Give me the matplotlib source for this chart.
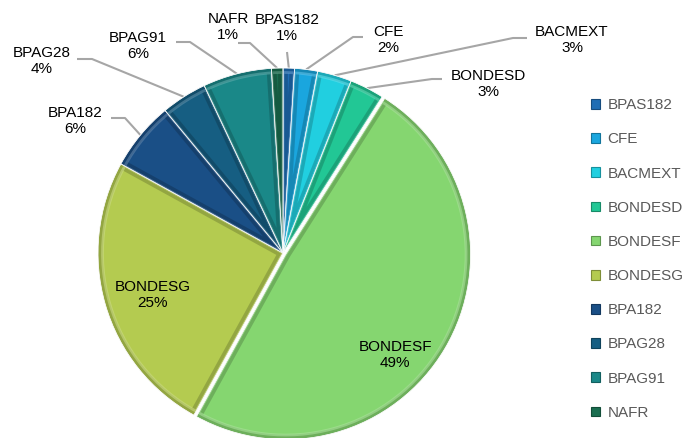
import matplotlib.pyplot as plt
from matplotlib.patches import Wedge, Patch
from matplotlib.colors import to_rgb
import numpy as np

labels = ['BPAS182', 'CFE', 'BACMEXT', 'BONDESD', 'BONDESF',
          'BONDESG', 'BPA182', 'BPAG28', 'BPAG91', 'NAFR']
shares = [1, 2, 3, 3, 49, 25, 6, 4, 6, 1]
colors = ['#1f6db4', '#1aa6de', '#21cfe0', '#22c795', '#85d670',
          '#b4cb50', '#1a4f86', '#165e82', '#1a8888', '#1a6e50']

W, H = 687, 438
cx, cy, R = 283, 253, 185   # pie centre / radius in pixels (y from top)

# label layout: text centre, then leader line elbow and end (pixels, y from top)
label_layout = {
    'BPAS182': ((287, 28), None, (287, 52)),
    'CFE': ((388, 40), (353, 37), (363, 37)),
    'BACMEXT': ((572, 40), (513, 38), (527, 38)),
    'BONDESD': ((488, 84), (432, 79), (442, 79)),
    'BONDESF': ((395, 355), None, None),
    'BONDESG': ((153, 295), None, None),
    'BPA182': ((75, 121), (125, 118), (111, 118)),
    'BPAG28': ((42, 61), (92, 59), (77, 59)),
    'BPAG91': ((138, 46), (190, 42), (176, 42)),
    'NAFR': ((228, 27), (250, 43), (238, 43)),
}


def py(y):
    return H - y


def darker(c, f):
    r, g, b = to_rgb(c)
    return (r * f, g * f, b * f)


def lighter(c, f):
    r, g, b = to_rgb(c)
    return (r + (1 - r) * f, g + (1 - g) * f, b + (1 - b) * f)


plt.rcParams['font.family'] = ['Liberation Sans', 'DejaVu Sans']

fig = plt.figure(figsize=(W / 100, H / 100), dpi=100)
ax = fig.add_axes([0, 0, 1, 1])

explode = [3 if l == 'BONDESF' else 0 for l in labels]
wedges, _ = ax.pie(shares, colors=colors, startangle=90, counterclock=False,
                   center=(cx, py(cy)), radius=R, explode=explode,
                   wedgeprops=dict(edgecolor='white', linewidth=0.5),
                   frame=True)
ax.set_xlim(0, W)
ax.set_ylim(0, H)
ax.set_aspect('equal')
ax.axis('off')

# bevel-ish rims
for w, c in zip(wedges, colors):
    rim = Wedge(w.center, w.r, w.theta1, w.theta2, facecolor='none',
                edgecolor=darker(c, 0.6), linewidth=7, alpha=0.45)
    rim.set_clip_path(w)
    ax.add_patch(rim)
    hi = Wedge(w.center, w.r - 4.5, w.theta1, w.theta2, facecolor='none',
               edgecolor=lighter(c, 0.3), linewidth=2, alpha=0.6)
    hi.set_clip_path(w)
    ax.add_patch(hi)
    sep = Wedge(w.center, w.r, w.theta1, w.theta2, facecolor='none',
                edgecolor='white', linewidth=0.5)
    ax.add_patch(sep)

total = sum(shares)
for w, lab, s in zip(wedges, labels, shares):
    (tx, ty), elbow, end = label_layout[lab]
    pct = f'{s / total * 100:.0f}%'
    ax.text(tx, py(ty), f'{lab}\n{pct}', ha='center', va='center',
            fontsize=11, color='black', linespacing=1.2)
    if end is None:
        continue
    ang = np.deg2rad((w.theta1 + w.theta2) / 2)
    ax_, ay_ = w.center[0] + w.r * np.cos(ang), w.center[1] + w.r * np.sin(ang)
    xs, ys = [ax_], [ay_]
    if elbow is not None:
        xs.append(elbow[0]); ys.append(py(elbow[1]))
    xs.append(end[0]); ys.append(py(end[1]))
    ax.plot(xs, ys, color='#a6a6a6', linewidth=1.5, solid_capstyle='butt', zorder=0.5)

handles = [Patch(facecolor=c, edgecolor=darker(c, 0.7), linewidth=0.8) for c in colors]
fig.legend(handles, labels, loc='center left', bbox_to_anchor=(577 / W, 1 - 259 / H),
           frameon=False, fontsize=11, labelcolor='#595959',
           handlelength=0.6, handleheight=0.6, handletextpad=0.5,
           labelspacing=1.32)

fig.savefig('out.png', dpi=100)
